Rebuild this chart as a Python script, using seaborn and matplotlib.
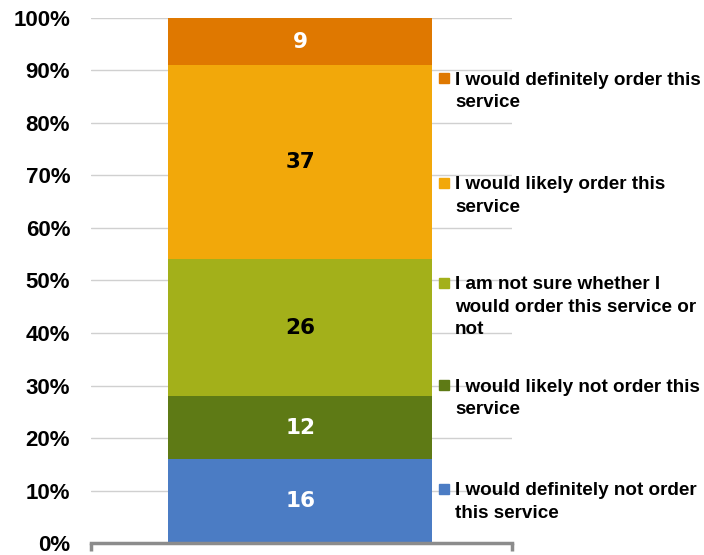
import matplotlib
matplotlib.use("Agg")
import matplotlib.pyplot as plt
import seaborn as sns
import pandas as pd
import numpy as np
from matplotlib.patches import Rectangle

# Survey responses (percent), bottom to top of the stack
categories = [
    "I would definitely not order\nthis service",
    "I would likely not order this\nservice",
    "I am not sure whether I\nwould order this service or\nnot",
    "I would likely order this\nservice",
    "I would definitely order this\nservice",
]
values = [16, 12, 26, 37, 9]
colors = ["#4B7CC4", "#5E7A15", "#A3B01A", "#F2A80A", "#DF7800"]
label_colors = ["white", "white", "black", "black", "white"]
ytick_labels = [f"{v}%" for v in range(0, 101, 10)]

sns.set_theme(style="white")
plt.rcParams["font.family"] = ["Liberation Sans", "DejaVu Sans"]
plt.rcParams["text.color"] = "black"
plt.rcParams["ytick.color"] = "black"

fig = plt.figure(figsize=(7.04, 5.55), dpi=100)
ax = fig.add_axes([0.1293, 0.0216, 0.598, 0.946])

tops = np.cumsum(values)
bottoms = tops - np.array(values)

# Stack drawn from the tallest cumulative layer down so each segment shows
for i in reversed(range(len(values))):
    df = pd.DataFrame({"group": ["all"], "pct": [tops[i]]})
    sns.barplot(data=df, x="group", y="pct", color=colors[i], saturation=1,
                width=0.627, ax=ax, zorder=2, linewidth=0)

for i, v in enumerate(values):
    ax.text(0, bottoms[i] + v / 2, str(v), ha="center", va="center",
            fontsize=15.5, fontweight="bold", color=label_colors[i],
            family="DejaVu Sans", zorder=3)

ax.set_xlim(-0.497, 0.503)
ax.set_ylim(0, 100)
ax.set_yticks(range(0, 101, 10))
ax.set_yticklabels(ytick_labels, fontsize=16, fontweight="bold", color="black")
ax.yaxis.grid(True, color="#D0D0D0", linewidth=1, zorder=0)
ax.set_axisbelow(True)
ax.tick_params(axis="y", length=0, pad=15)
ax.set_xticks([-0.497, 0.503])
ax.set_xticklabels(["", ""])
ax.tick_params(axis="x", direction="out", length=6, width=2.5, color="#8C8C8C", bottom=True)
ax.set_xlabel("")
ax.set_ylabel("")
for s in ["top", "right", "left"]:
    ax.spines[s].set_visible(False)
ax.spines["bottom"].set_color("#8C8C8C")
ax.spines["bottom"].set_linewidth(2.5)

# Legend on the right, top entry first
legend_y = [0.858, 0.669, 0.489, 0.305, 0.118]
for j, i in enumerate(reversed(range(len(values)))):
    y = legend_y[j]
    fig.patches.append(Rectangle((439 / 704, y - 0.008), 10 / 704, 10 / 555,
                                 transform=fig.transFigure, color=colors[i]))
    fig.text(455 / 704, y + 0.013, categories[i], ha="left", va="top",
             fontsize=13.6, fontweight="bold", linespacing=1.42, color="black")

fig.savefig("out.png", dpi=100)
